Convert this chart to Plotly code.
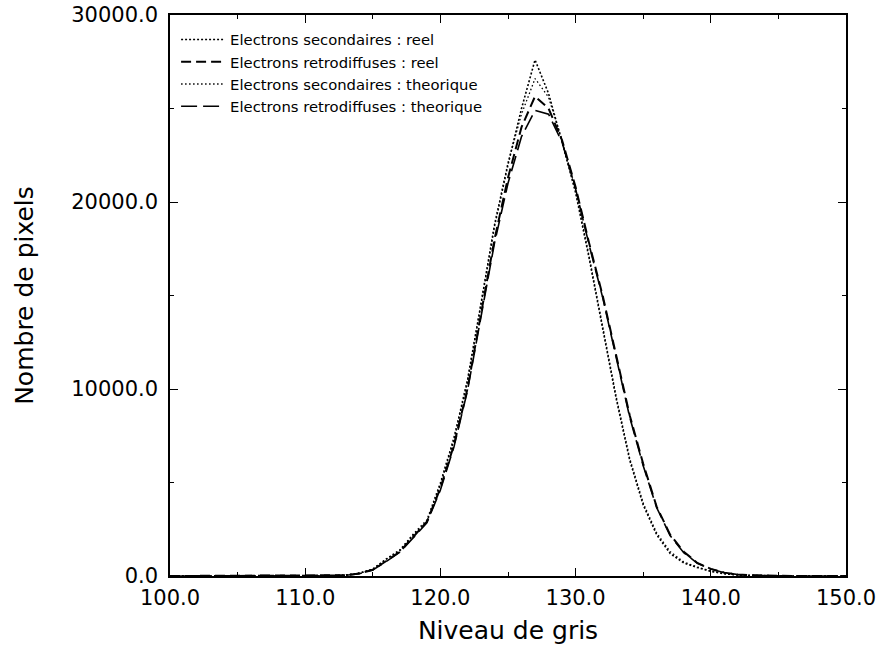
import plotly.graph_objects as go

x_levels = list(range(100, 151))

sec_reel_vals = {
    113: 50, 114: 150, 115: 350, 116: 900, 117: 1350, 118: 2200, 119: 2900,
    120: 4900, 121: 7300, 122: 10400, 123: 14500, 124: 18700, 125: 22000,
    126: 25000, 127: 27600, 128: 25800, 129: 23200, 130: 20500, 131: 17000,
    132: 13200, 133: 9500, 134: 6200, 135: 3800, 136: 2200, 137: 1200,
    138: 700, 139: 450, 140: 250, 141: 120, 142: 50, 143: 20,
}
retro_reel_vals = {
    113: 40, 114: 130, 115: 330, 116: 800, 117: 1300, 118: 2100, 119: 2900,
    120: 4700, 121: 7000, 122: 10000, 123: 14000, 124: 18000, 125: 21300,
    126: 24000, 127: 25650, 128: 25000, 129: 23300, 130: 20800, 131: 17800,
    132: 15000, 133: 11800, 134: 8600, 135: 6000, 136: 3700, 137: 2200,
    138: 1300, 139: 700, 140: 380, 141: 180, 142: 80, 143: 40, 144: 20,
}
sec_theo_vals = {
    113: 60, 114: 160, 115: 380, 116: 920, 117: 1400, 118: 2250, 119: 3000,
    120: 5000, 121: 7400, 122: 10500, 123: 14600, 124: 18800, 125: 22100,
    126: 24700, 127: 26600, 128: 25600, 129: 23300, 130: 20600, 131: 17100,
    132: 13300, 133: 9600, 134: 6300, 135: 3900, 136: 2300, 137: 1300,
    138: 750, 139: 480, 140: 270, 141: 130, 142: 60, 143: 20,
}
retro_theo_vals = {
    113: 40, 114: 120, 115: 320, 116: 780, 117: 1280, 118: 2050, 119: 2850,
    120: 4600, 121: 6900, 122: 9900, 123: 13800, 124: 17800, 125: 21000,
    126: 23500, 127: 24900, 128: 24700, 129: 23200, 130: 20700, 131: 17700,
    132: 14900, 133: 11700, 134: 8500, 135: 5900, 136: 3650, 137: 2150,
    138: 1250, 139: 680, 140: 370, 141: 170, 142: 80, 143: 40, 144: 20,
}

def series(d):
    return [d.get(v, 0) for v in x_levels]

names = [
    "Electrons secondaires : reel",
    "Electrons retrodiffuses : reel",
    "Electrons secondaires : theorique",
    "Electrons retrodiffuses : theorique",
]
values = [series(sec_reel_vals), series(retro_reel_vals),
          series(sec_theo_vals), series(retro_theo_vals)]
dashes = ["2px,2px", "10px,5px", "1.5px,2.5px", "16px,6px"]
widths = [1.6, 2.0, 1.3, 1.6]

fig = go.Figure()
for n, v, d, w in zip(names, values, dashes, widths):
    fig.add_trace(go.Scatter(x=x_levels, y=v, mode="lines", name=n,
                             line=dict(color="black", dash=d, width=w)))

font_main = "DejaVu Sans, Liberation Sans, Arial, sans-serif"
fig.update_layout(
    width=879, height=646,
    margin=dict(l=170, r=33, t=15, b=70),
    paper_bgcolor="white", plot_bgcolor="white",
    font=dict(family=font_main, color="black", size=21),
    showlegend=True,
    legend=dict(x=0.009, y=0.985, xanchor="left", yanchor="top",
                bgcolor="rgba(0,0,0,0)", font=dict(size=14.8, family=font_main),
                tracegroupgap=0, itemwidth=44),
    xaxis=dict(range=[100, 150], tickvals=[100, 110, 120, 130, 140, 150],
               tickformat=".1f", ticks="inside", ticklen=8, tickcolor="black",
               showline=True, linecolor="black", linewidth=1.5, mirror="ticks",
               showgrid=False, zeroline=False, automargin=False,
               ticklabelstandoff=2,
               minor=dict(tickvals=[105, 115, 125, 135, 145], ticks="inside",
                          ticklen=4, tickcolor="black"),
               title=dict(text="Niveau de gris", standoff=13),
               tickfont=dict(size=21)),
    yaxis=dict(range=[0, 30000], tickvals=[0, 10000, 20000, 30000],
               tickformat=".1f", ticks="inside", ticklen=8, tickcolor="black",
               showline=True, linecolor="black", linewidth=1.5, mirror="ticks",
               showgrid=False, zeroline=False, automargin=False,
               ticklabelstandoff=6,
               minor=dict(tickvals=[5000, 15000, 25000], ticks="inside",
                          ticklen=4, tickcolor="black"),
               title=dict(text="Nombre de pixels", standoff=30),
               tickfont=dict(size=21)),
)

fig.write_html(
    "out.html",
    config={"displayModeBar": False},
    post_script="document.body.style.margin='0';document.body.style.overflow='hidden';",
)
